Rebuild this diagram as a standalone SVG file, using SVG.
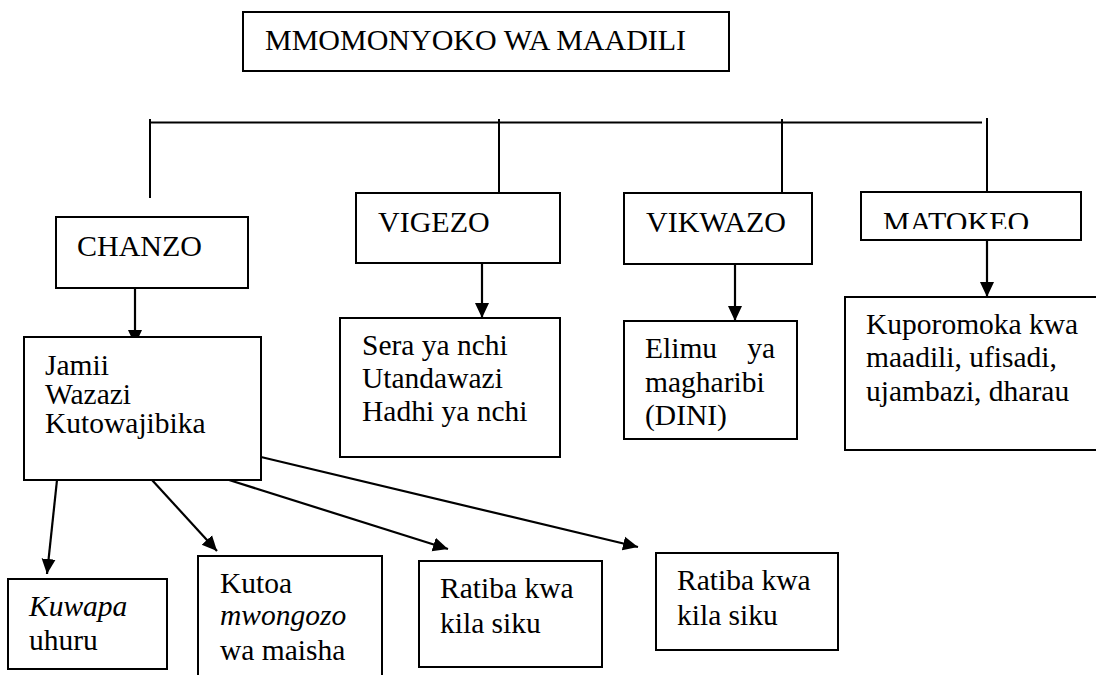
<svg xmlns="http://www.w3.org/2000/svg" width="1096" height="675" viewBox="0 0 1096 675">
<style>
.box{fill:#fff;stroke:#000;stroke-width:2}
.t{font-family:'Liberation Serif','Times New Roman','DejaVu Serif',serif;font-size:30px;fill:#000}
.b{font-family:'Liberation Serif','Times New Roman','DejaVu Serif',serif;font-size:29.5px;fill:#000}
.i{font-style:italic}
.ln{stroke:#000;stroke-width:2;fill:none}
.ar{stroke:#000;stroke-width:2.2;fill:none;marker-end:url(#ah)}
</style>
<defs>
<marker id="ah" markerUnits="userSpaceOnUse" markerWidth="16" markerHeight="16" refX="15" refY="8" orient="auto">
<path d="M0,1 L15,8 L0,15 z" fill="#000"/>
</marker>
<clipPath id="mclip"><rect x="861" y="192" width="220" height="37"/></clipPath>
</defs>
<rect width="1096" height="675" fill="#fff"/>

<g id="connectors">
<line class="ln" x1="150" y1="122.5" x2="982" y2="122.5"/>
<line class="ln" x1="150" y1="119" x2="150" y2="198"/>
<line class="ln" x1="499" y1="119" x2="499" y2="193"/>
<line class="ln" x1="782" y1="119" x2="782" y2="193"/>
<line class="ln" x1="987" y1="118" x2="987" y2="192"/>
<line class="ar" x1="135" y1="288" x2="135" y2="345"/>
<line class="ar" x1="482" y1="263" x2="482" y2="318"/>
<line class="ar" x1="735" y1="264" x2="735" y2="321"/>
<line class="ar" x1="987" y1="240" x2="987" y2="297"/>
<line class="ar" x1="57" y1="480" x2="47" y2="574"/>
<line class="ar" x1="152" y1="480" x2="217" y2="551"/>
<line class="ar" x1="229" y1="480" x2="448" y2="549"/>
<line class="ar" x1="261" y1="457" x2="638" y2="547"/>
</g>

<g id="title">
<rect class="box" x="243" y="12" width="486" height="59"/>
<text class="t" x="265" y="50" font-family="Liberation Serif, serif">MMOMONYOKO WA MAADILI</text>
</g>

<g id="chanzo">
<rect class="box" x="56" y="217" width="192" height="71"/>
<text class="t" x="77" y="256">CHANZO</text>
</g>

<g id="vigezo">
<rect class="box" x="356" y="193" width="204" height="70"/>
<text class="t" x="378" y="232">VIGEZO</text>
</g>

<g id="vikwazo">
<rect class="box" x="624" y="193" width="188" height="71"/>
<text class="t" x="646" y="232">VIKWAZO</text>
</g>

<g id="matokeo">
<rect class="box" x="861" y="192" width="220" height="48"/>
<text class="t" x="883" y="232" clip-path="url(#mclip)">MATOKEO</text>
</g>

<g id="jamii">
<rect class="box" x="24" y="337" width="237" height="143"/>
<text class="b"><tspan x="45" y="375">Jamii</tspan><tspan x="45" y="404">Wazazi</tspan><tspan x="45" y="433">Kutowajibika</tspan></text>
</g>

<g id="sera">
<rect class="box" x="340" y="318" width="220" height="139"/>
<text class="b"><tspan x="362" y="355">Sera ya nchi</tspan><tspan x="362" y="388">Utandawazi</tspan><tspan x="362" y="421">Hadhi ya nchi</tspan></text>
</g>

<g id="elimu">
<rect class="box" x="624" y="321" width="173" height="118"/>
<text class="b"><tspan x="645" y="358">Elimu</tspan><tspan x="775" y="358" text-anchor="end">ya</tspan><tspan x="645" y="392">magharibi</tspan><tspan x="645" y="425">(DINI)</tspan></text>
</g>

<g id="kuporomoka">
<rect class="box" x="845" y="297" width="260" height="153"/>
<text class="b"><tspan x="866" y="334">Kuporomoka kwa</tspan><tspan x="866" y="367">maadili, ufisadi,</tspan><tspan x="866" y="401">ujambazi, dharau</tspan></text>
</g>

<g id="kuwapa">
<rect class="box" x="8" y="579" width="159" height="90"/>
<text class="b"><tspan x="29" y="616" class="i">Kuwapa</tspan><tspan x="29" y="650">uhuru</tspan></text>
</g>

<g id="kutoa">
<rect class="box" x="198" y="556" width="184" height="130"/>
<text class="b"><tspan x="220" y="593">Kutoa</tspan><tspan x="220" y="625" class="i">mwongozo</tspan><tspan x="220" y="660">wa maisha</tspan></text>
</g>

<g id="ratiba1">
<rect class="box" x="419" y="561" width="183" height="106"/>
<text class="b"><tspan x="440" y="598">Ratiba kwa</tspan><tspan x="440" y="633">kila siku</tspan></text>
</g>

<g id="ratiba2">
<rect class="box" x="656" y="553" width="182" height="97"/>
<text class="b"><tspan x="677" y="590">Ratiba kwa</tspan><tspan x="677" y="625">kila siku</tspan></text>
</g>
</svg>
